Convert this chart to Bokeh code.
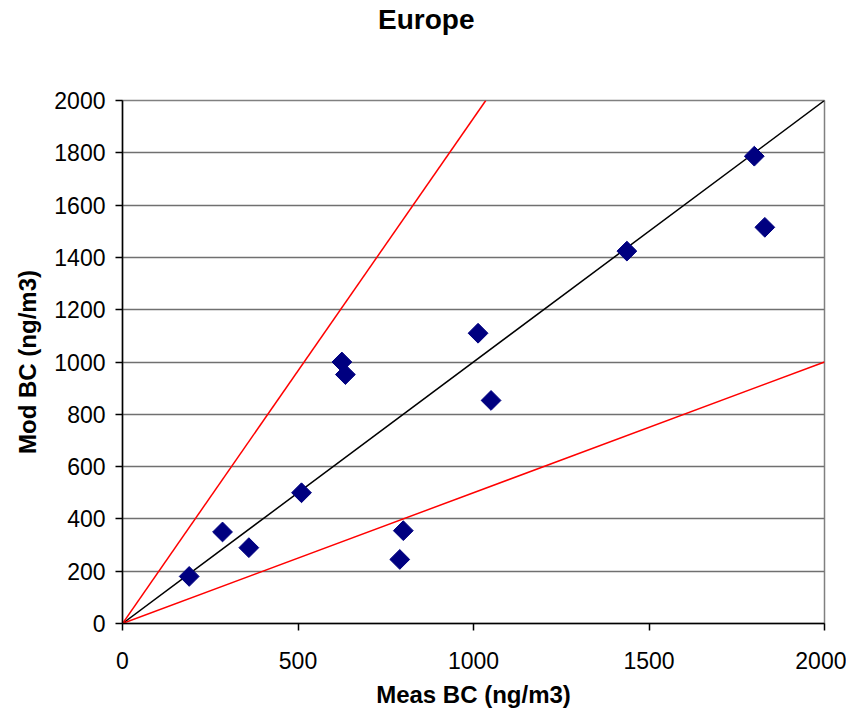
import math
from bokeh.plotting import figure
from bokeh.models import Range1d, FixedTicker, Div
from bokeh.layouts import column
from bokeh.embed import file_html
from bokeh.resources import INLINE

# Data
meas_bc = [190, 285, 360, 510, 625, 635, 790, 800, 1013, 1050, 1437, 1800, 1830]
mod_bc = [180, 350, 290, 500, 1000, 952, 245, 355, 1110, 853, 1424, 1787, 1515]

# reference lines
line_1to1_x = [0, 2000]
line_1to1_y = [0, 2000]
line_upper_x = [0, 1035]
line_upper_y = [0, 2000]
line_lower_x = [0, 2000]
line_lower_y = [0, 1000]

x_ticks = [0, 500, 1000, 1500, 2000]
y_ticks = [0, 200, 400, 600, 800, 1000, 1200, 1400, 1600, 1800, 2000]

title_text = "Europe"

FONT = "Liberation Sans"

title_div = Div(
    text=('<div style="font-family:\'Liberation Sans\'; font-size:28px; '
          'font-weight:bold; color:black; line-height:40px; '
          'margin-left:378px; white-space:nowrap;">' + title_text + '</div>'),
    width=846, height=40, margin=0,
)

p = figure(
    width=846, height=664,
    frame_width=702, frame_height=523,
    output_backend="svg", toolbar_location=None,
    x_range=Range1d(0, 2000), y_range=Range1d(0, 2000),
    min_border_left=122, min_border_right=22,
    min_border_top=60, min_border_bottom=81,
    margin=0,
)

p.line(line_1to1_x, line_1to1_y, line_color="black", line_width=1.5)
p.line(line_upper_x, line_upper_y, line_color="#ff0000", line_width=1.5)
p.line(line_lower_x, line_lower_y, line_color="#ff0000", line_width=1.5)

p.scatter(meas_bc, mod_bc, marker="square", size=14, angle=math.pi / 4,
          fill_color="#000080", line_color="#000080")

p.xaxis.ticker = FixedTicker(ticks=x_ticks)
p.yaxis.ticker = FixedTicker(ticks=y_ticks)
p.xaxis.axis_label = "Meas BC (ng/m3)"
p.yaxis.axis_label = "Mod BC (ng/m3)"

for ax in (p.xaxis, p.yaxis):
    ax.axis_label_text_font = FONT
    ax.axis_label_text_font_size = "24px"
    ax.axis_label_text_font_style = "bold"
    ax.axis_label_text_color = "black"
    ax.major_label_text_font = FONT
    ax.major_label_text_font_size = "23px"
    ax.major_label_text_color = "black"
    ax.axis_line_color = "black"
    ax.axis_line_width = 1.5
    ax.major_tick_line_color = "black"
    ax.major_tick_line_width = 1.5
    ax.major_tick_out = 7
    ax.major_tick_in = 0
    ax.minor_tick_line_color = None

p.xaxis.major_label_standoff = 21
p.xaxis.axis_label_standoff = 9
p.yaxis.major_label_standoff = 10
p.yaxis.axis_label_standoff = 10

p.xgrid.grid_line_color = None
p.ygrid.grid_line_color = "#707070"
p.ygrid.grid_line_width = 1.5

p.outline_line_color = "#808080"
p.outline_line_width = 1.5
p.background_fill_color = "white"
p.border_fill_color = "white"

layout = column(title_div, p, spacing=0)

open("out.html", "w").write(file_html(layout, INLINE))
